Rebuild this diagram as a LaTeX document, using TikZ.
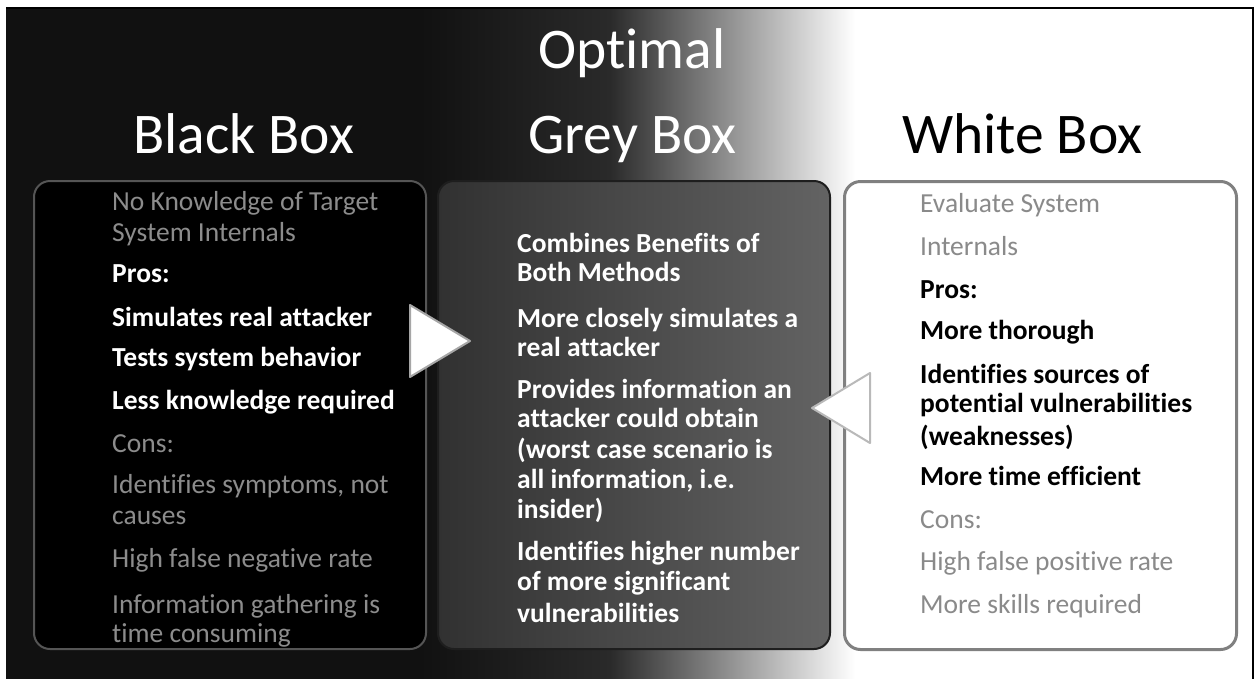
\documentclass[tikz,border=0pt]{standalone}
\usepackage{fontspec}
\setmainfont{Carlito}[Ligatures=NoCommon]
\definecolor{bgdark}{HTML}{111111}
\definecolor{gA}{HTML}{2A2A2A}
\definecolor{gB}{HTML}{808080}
\definecolor{txtgrey}{HTML}{8C8C8C}
\definecolor{txtgreyw}{HTML}{8A8A8A}
\definecolor{blkborder}{HTML}{555555}
\definecolor{grLeft}{HTML}{313131}
\definecolor{grRight}{HTML}{636363}
\definecolor{grBorder}{HTML}{1E1E1E}
\definecolor{whBorder}{HTML}{808080}
\tikzset{
  title/.style={anchor=base west, inner sep=0pt, font=\fontsize{57.5}{64}\selectfont},
  body/.style={anchor=base west, inner sep=0pt, font=\fontsize{27.5}{32}\selectfont},
  bodyb/.style={anchor=base west, inner sep=0pt, font=\fontsize{27.5}{32}\selectfont\bfseries},
  panel/.style={anchor=north west, rounded corners=16pt, minimum width=392pt, minimum height=468pt, inner sep=0pt},
}
\begin{document}
\begin{tikzpicture}[x=1pt,y=-1pt]
\useasboundingbox (0,0) rectangle (1256,678);
% background
\fill[white] (0,0) rectangle (1256,682);
\fill[bgdark] (6,8) rectangle (420.5,682);
\shade[left color=bgdark,right color=gA] (420,8) rectangle (610.5,682);
\shade[left color=gA,right color=gB] (610,8) rectangle (710.5,682);
\shade[left color=gB,right color=white] (710,8) rectangle (855,682);
\draw[black,line width=1.5pt] (6,8) -- (1253,8) -- (1253,682);
% titles
\node[title, text=white] (tOpt) at (538,68) {Optimal};
\node[title, text=white] (tBlack) at (133,153) {Black Box};
\node[title, text=white] (tGrey) at (528,153) {Grey Box};
\node[title, text=black] (tWhite) at (902,153) {White Box};
% panels
\node[panel, fill=black, draw=blkborder, line width=2pt] (pBlack) at (33,180) {};
\node[panel, left color=grLeft, right color=grRight, draw=grBorder, line width=2pt] (pGrey) at (437,180) {};
\node[panel, fill=white, draw=whBorder, line width=3pt] (pWhite) at (843,180) {};
% arrows
\path[fill=white, draw=gray!70, line width=2pt, line join=round] (410,305) -- (470,341) -- (410,377) -- cycle;
\path[fill=white, draw=gray!55, line width=2pt, line join=round] (870,373) -- (812,408) -- (870,443) -- cycle;
% black box text
\node[body, text=txtgrey] (b1) at (112,210) {No Knowledge of Target};
\node[body, text=txtgrey] (b2) at (112,241) {System Internals};
\node[bodyb, text=white] (b3) at (112,282) {Pros:};
\node[bodyb, text=white] (b4) at (112,326) {Simulates real attacker};
\node[bodyb, text=white] (b5) at (112,366) {Tests system behavior};
\node[bodyb, text=white] (b6) at (112,409) {Less knowledge required};
\node[body, text=txtgrey] (b7) at (112,452) {Cons:};
\node[body, text=txtgrey] (b8) at (112,493) {Identifies symptoms, not};
\node[body, text=txtgrey] (b9) at (112,524) {causes};
\node[body, text=txtgrey] (b10) at (112,567) {High false negative rate};
\node[body, text=txtgrey] (b11) at (112,613) {Information gathering is};
\node[body, text=txtgrey] (b12) at (112,642) {time consuming};
% grey box text
\node[bodyb, text=white] (g1) at (517,252) {Combines Benefits of};
\node[bodyb, text=white] (g2) at (517,281) {Both Methods};
\node[bodyb, text=white] (g3) at (517,327) {More closely simulates a};
\node[bodyb, text=white] (g4) at (517,356) {real attacker};
\node[bodyb, text=white] (g5) at (517,398) {Provides information an};
\node[bodyb, text=white] (g6) at (517,427) {attacker could obtain};
\node[bodyb, text=white] (g7) at (517,458) {(worst case scenario is};
\node[bodyb, text=white] (g8) at (517,488) {all information, i.e.};
\node[bodyb, text=white] (g9) at (517,518) {insider)};
\node[bodyb, text=white] (g10) at (517,560) {Identifies higher number};
\node[bodyb, text=white] (g11) at (517,590) {of more significant};
\node[bodyb, text=white] (g12) at (517,622) {vulnerabilities};
% white box text
\node[body, text=txtgreyw] (w1) at (920,212) {Evaluate System};
\node[body, text=txtgreyw] (w2) at (920,255) {Internals};
\node[bodyb, text=black] (w3) at (920,298) {Pros:};
\node[bodyb, text=black] (w4) at (920,339) {More thorough};
\node[bodyb, text=black] (w5) at (920,383) {Identifies sources of};
\node[bodyb, text=black] (w6) at (920,412) {potential vulnerabilities};
\node[bodyb, text=black] (w7) at (920,445) {(weaknesses)};
\node[bodyb, text=black] (w8) at (920,485) {More time efficient};
\node[body, text=txtgreyw] (w9) at (920,528) {Cons:};
\node[body, text=txtgreyw] (w10) at (920,570) {High false positive rate};
\node[body, text=txtgreyw] (w11) at (920,613) {More skills required};
\end{tikzpicture}
\end{document}
